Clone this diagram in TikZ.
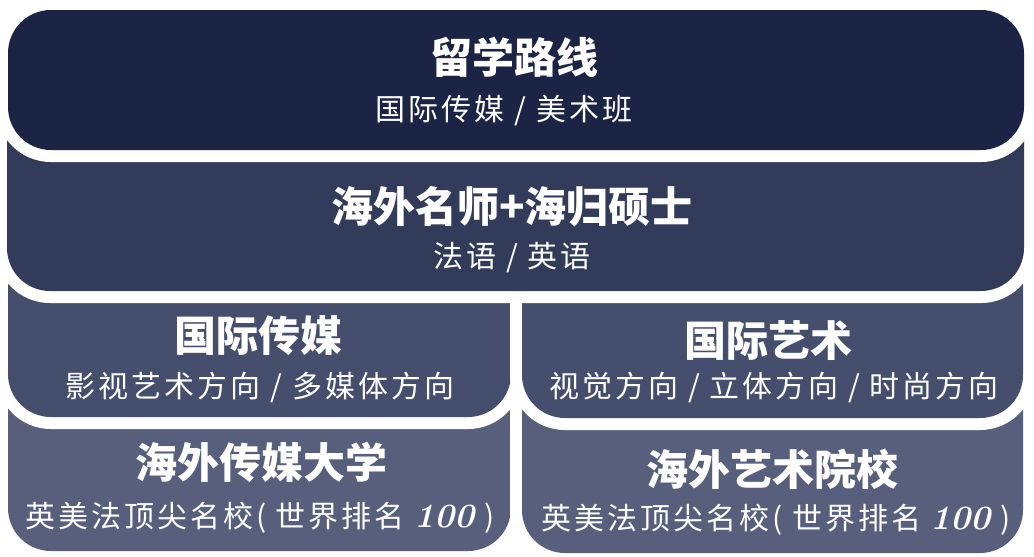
\documentclass[tikz,border=0pt]{standalone}
\usepackage{fontspec}
\newfontfamily\cjk{Noto Sans CJK SC}
\newfontfamily\cjklight[LetterSpace=10]{Noto Sans CJK SC}
\definecolor{lvla}{HTML}{1C2446}
\definecolor{lvlb}{HTML}{333B5B}
\definecolor{lvlc}{HTML}{464E6D}
\definecolor{lvld}{HTML}{585F7C}
\tikzset{
 band/.style={fill=#1, preaction={draw=white, line width=24pt}, rounded corners=43pt},
 head/.style={text=white, font=\cjk\bfseries\fontsize{42}{46}\selectfont},
 sub/.style={text=white, font=\cjklight\fontsize{30}{34}\selectfont}
}
\newcommand{\hundred}{{\normalfont\bfseries\itshape\fontsize{34}{34}\selectfont 100}}

\begin{document}
\begin{tikzpicture}[x=1pt, y=-1pt]
 \path[use as bounding box, fill=white] (0,0) rectangle (1034,557);

 \fill[band=lvld] (8,330) rectangle (511,551);
 \fill[band=lvld] (522,330) rectangle (1023,553);
 \fill[band=lvlc] (8,200) rectangle (511,417);
 \fill[band=lvlc] (522,200) rectangle (1023,418);
 \fill[band=lvlb] (7,60) rectangle (1024,291);
 \fill[band=lvla] (8,10) rectangle (1024,150);

 \node[head] (route) at (514,57) {留学路线};
 \node[sub] (routesub) at (504,111) {国际传媒 / 美术班};

 \node[head] (teach) at (512,207) {海外名师+海归硕士};
 \node[sub] (teachsub) at (512,258) {法语 / 英语};

 \node[head] (media) at (258,336) {国际传媒};
 \node[sub] (mediasub) at (260,387) {影视艺术方向 / 多媒体方向};
 \node[head] (art) at (768,341) {国际艺术};
 \node[sub] (artsub) at (774,387) {视觉方向 / 立体方向 / 时尚方向};

 \node[head] (mediauni) at (261,462) {海外传媒大学};
 \node[sub] (mediaunisub) at (260,518) {英美法顶尖名校( 世界排名 \hundred\ )};
 \node[head] (artuni) at (772,469) {海外艺术院校};
 \node[sub] (artunisub) at (776,520) {英美法顶尖名校( 世界排名 \hundred\ )};
\end{tikzpicture}
\end{document}
